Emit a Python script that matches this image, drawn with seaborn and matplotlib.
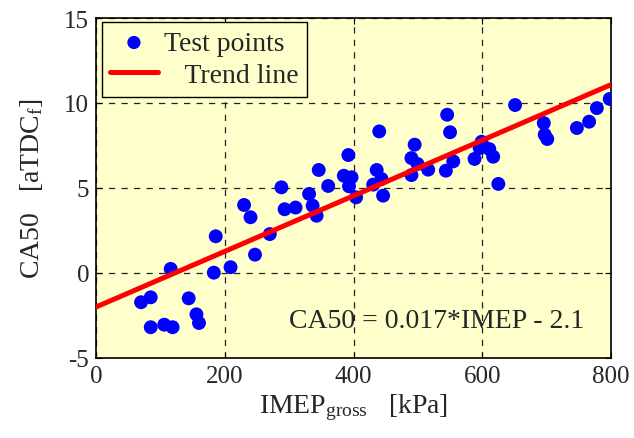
import matplotlib
matplotlib.use("Agg")
import matplotlib.pyplot as plt
import seaborn as sns
import numpy as np
import pandas as pd

imep = [70, 85, 85, 106, 119, 116, 144, 156, 160, 183, 186, 209, 230, 240, 247, 270,
        288, 293, 310, 331, 336.5, 342.7, 346, 360.7, 385, 392, 393, 397, 404, 430.6,
        436, 440, 443.6, 446, 490, 490, 495, 499.5, 516, 543.5, 545.5, 550, 555, 588,
        596, 599, 611, 617, 625, 651, 695.6, 697, 701, 747, 766, 778, 798]
ca50 = [-1.72, -1.43, -3.19, -3.04, -3.19, 0.24, -1.49, -2.43, -2.94, 0.02, 2.16, 0.34,
        4.0, 3.28, 1.08, 2.29, 5.04, 3.75, 3.85, 4.65, 3.96, 3.37, 6.06, 5.12, 5.72, 6.94,
        5.1, 5.63, 4.45, 5.2, 6.06, 8.33, 5.53, 4.55, 6.76, 5.76, 7.55, 6.41, 6.08, 6.02,
        9.31, 8.28, 6.57, 6.71, 7.35, 7.72, 7.29, 6.84, 5.24, 9.88, 8.82, 8.14, 7.88, 8.53,
        8.9, 9.7, 10.24]
trend_x = [0, 800]
trend_y = [-2.0, 11.08]
x_ticks = [0, 200, 400, 600, 800]
y_ticks = [-5, 0, 5, 10, 15]

sns.set_theme(style="white")
plt.rcParams['font.family'] = ['Liberation Serif', 'DejaVu Serif']
plt.rcParams['mathtext.fontset'] = 'custom'
plt.rcParams['mathtext.rm'] = 'Liberation Serif'
plt.rcParams['mathtext.it'] = 'Liberation Serif'

df = pd.DataFrame({"IMEP": imep, "CA50": ca50})
tf = pd.DataFrame({"x": trend_x, "y": trend_y})

fig = plt.figure(figsize=(6.34, 4.39), dpi=100)
ax = fig.add_axes([96/634, 1-359/439, (611-96)/634, (359-19)/439])
ax.set_facecolor('#FFFFCC')

sns.scatterplot(data=df, x="IMEP", y="CA50", ax=ax, color='#0000FF', s=100,
                edgecolor='none', label='Test points', zorder=3)
sns.lineplot(data=tf, x="x", y="y", ax=ax, color='#FF0000', linewidth=3.6,
             label='   Trend line', zorder=4)

ax.set_xlim(0, 800)
ax.set_ylim(-5, 15)
ax.set_xticks(x_ticks)
ax.set_yticks(y_ticks)
ax.set_xticklabels([str(v) for v in x_ticks], fontsize=18)
ax.set_yticklabels([str(v) for v in y_ticks], fontsize=18)
ax.tick_params(direction='in', length=4, color='black', width=0.8, top=True, right=True,
               bottom=True, left=True, pad=5)
ax.grid(True, color='#222222', linestyle=(0, (5, 5)), linewidth=0.9)
for sp in ax.spines.values():
    sp.set_color('black')
    sp.set_linewidth(1.2)

ax.set_xlabel(r'IMEP$_{\mathrm{gross}}$   [kPa]', fontsize=20, labelpad=3)
ax.set_ylabel(r'CA50   [aTDC$_{\mathrm{f}}$]', fontsize=20, labelpad=14)

ax.text(759, -3.15, 'CA50 = 0.017*IMEP - 2.1', fontsize=20, ha='right', va='baseline')

leg = ax.legend(loc='upper left', fontsize=20, frameon=True, fancybox=False,
                edgecolor='black', facecolor='#FFFFCC', framealpha=1,
                handlelength=1.7, handletextpad=0.25, borderpad=0.3, labelspacing=0.25,
                borderaxespad=0, bbox_to_anchor=(6/515, 1-4/340), markerscale=0.95)
leg.get_frame().set_linewidth(1.0)

fig.savefig('out.png', dpi=100, facecolor='white')
